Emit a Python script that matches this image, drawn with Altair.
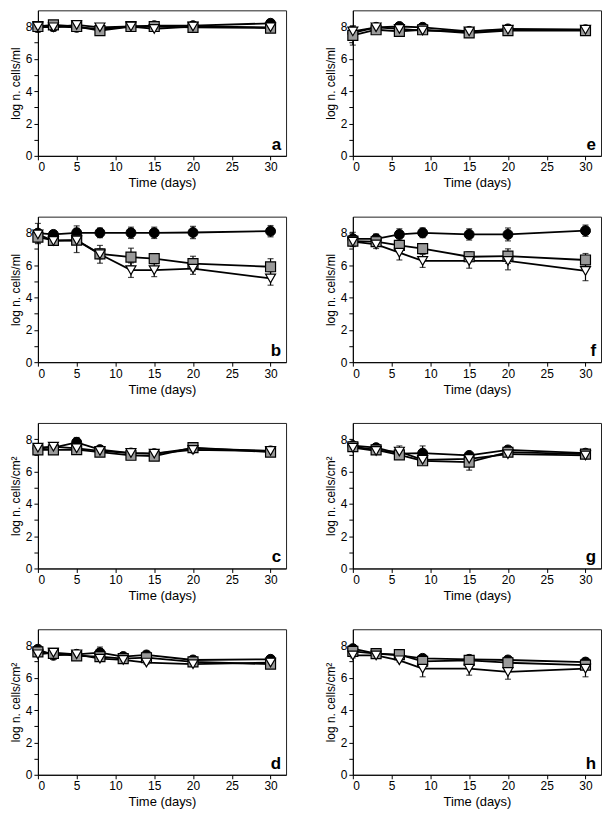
import altair as alt
import pandas as pd

FONT = "Liberation Sans"
W, H = 249, 146

# ---- data ----
times_a = [0, 2, 5, 8, 12, 15, 20, 30]
a_circ = [7.95, 8.0, 7.95, 7.85, 8.0, 8.05, 8.05, 8.2]
a_circ_err = [0.3, 0.1, 0.1, 0.1, 0.1, 0.1, 0.1, 0.1]
a_sq = [8.0, 8.1, 8.0, 7.75, 8.0, 8.0, 7.95, 7.9]
a_sq_err = [0.15, 0.1, 0.1, 0.1, 0.1, 0.1, 0.1, 0.1]
a_tri = [8.0, 7.95, 8.1, 7.95, 8.0, 7.85, 8.0, 7.95]
a_tri_err = [0.1, 0.25, 0.1, 0.1, 0.1, 0.1, 0.1, 0.1]

times_e = [0, 3, 6, 9, 15, 20, 30]
e_circ = [7.6, 7.95, 8.0, 7.95, 7.7, 7.85, 7.8]
e_circ_err = [0.3, 0.1, 0.1, 0.1, 0.1, 0.1, 0.1]
e_sq = [7.45, 7.8, 7.7, 7.8, 7.6, 7.75, 7.75]
e_sq_err = [0.6, 0.15, 0.1, 0.1, 0.1, 0.1, 0.1]
e_tri = [7.7, 7.95, 7.85, 7.75, 7.7, 7.8, 7.8]
e_tri_err = [0.3, 0.2, 0.1, 0.1, 0.1, 0.1, 0.1]

times_b = [0, 2, 5, 8, 12, 15, 20, 30]
b_circ = [7.98, 7.9, 8.0, 8.0, 8.0, 8.0, 8.02, 8.1]
b_circ_err = [0.6, 0.1, 0.43, 0.3, 0.35, 0.35, 0.38, 0.35]
b_sq = [7.73, 7.53, 7.55, 6.7, 6.5, 6.4, 6.1, 5.9]
b_sq_err = [0.4, 0.1, 0.2, 0.3, 0.55, 0.2, 0.45, 0.5]
b_tri = [7.9, 7.5, 7.53, 6.67, 5.69, 5.69, 5.78, 5.18]
b_tri_err = [0.3, 0.1, 0.75, 0.55, 0.45, 0.4, 0.35, 0.42]

times_f = [0, 3, 6, 9, 15, 20, 30]
f_circ = [7.63, 7.63, 7.9, 8.0, 7.9, 7.9, 8.13]
f_circ_err = [0.4, 0.3, 0.35, 0.3, 0.35, 0.4, 0.35]
f_sq = [7.49, 7.45, 7.22, 7.02, 6.52, 6.56, 6.32]
f_sq_err = [0.2, 0.15, 0.2, 0.3, 0.3, 0.45, 0.4]
f_tri = [7.45, 7.28, 6.77, 6.26, 6.26, 6.26, 5.64]
f_tri_err = [0.3, 0.25, 0.45, 0.4, 0.45, 0.55, 0.6]

times_c = [0, 2, 5, 8, 12, 15, 20, 30]
c_circ = [7.43, 7.47, 7.8, 7.35, 7.14, 7.1, 7.43, 7.27]
c_circ_err = [0.1, 0.1, 0.3, 0.1, 0.1, 0.1, 0.1, 0.1]
c_sq = [7.33, 7.33, 7.35, 7.2, 7.0, 6.95, 7.47, 7.2]
c_sq_err = [0.1, 0.1, 0.1, 0.1, 0.1, 0.1, 0.1, 0.1]
c_tri = [7.47, 7.53, 7.43, 7.27, 7.14, 7.1, 7.33, 7.27]
c_tri_err = [0.1, 0.1, 0.1, 0.1, 0.1, 0.1, 0.1, 0.1]

times_g = [0, 3, 6, 9, 15, 20, 30]
g_circ = [7.6, 7.47, 7.1, 7.13, 6.99, 7.33, 7.13]
g_circ_err = [0.1, 0.1, 0.1, 0.45, 0.1, 0.1, 0.1]
g_sq = [7.53, 7.33, 7.03, 6.66, 6.58, 7.19, 7.07]
g_sq_err = [0.1, 0.1, 0.1, 0.1, 0.5, 0.1, 0.1]
g_tri = [7.47, 7.27, 7.23, 6.72, 6.78, 7.07, 6.99]
g_tri_err = [0.1, 0.1, 0.35, 0.1, 0.1, 0.1, 0.1]

times_d = [0, 2, 5, 8, 11, 14, 20, 30]
d_circ = [7.76, 7.39, 7.45, 7.55, 7.31, 7.41, 7.1, 7.14]
d_circ_err = [0.1, 0.1, 0.1, 0.35, 0.1, 0.1, 0.1, 0.1]
d_sq = [7.6, 7.51, 7.35, 7.31, 7.18, 7.24, 6.98, 6.84]
d_sq_err = [0.1, 0.1, 0.1, 0.1, 0.1, 0.1, 0.1, 0.1]
d_tri = [7.45, 7.55, 7.45, 7.18, 7.1, 6.94, 6.84, 6.94]
d_tri_err = [0.1, 0.1, 0.1, 0.1, 0.1, 0.1, 0.1, 0.1]

times_h = [0, 3, 6, 9, 15, 20, 30]
h_circ = [7.8, 7.49, 7.38, 7.2, 7.14, 7.1, 6.97]
h_circ_err = [0.1, 0.1, 0.1, 0.1, 0.1, 0.1, 0.1]
h_sq = [7.63, 7.49, 7.43, 7.02, 7.08, 6.93, 6.78]
h_sq_err = [0.1, 0.1, 0.1, 0.1, 0.1, 0.1, 0.1]
h_tri = [7.38, 7.38, 7.08, 6.56, 6.56, 6.36, 6.56]
h_tri_err = [0.15, 0.1, 0.1, 0.5, 0.4, 0.45, 0.5]

x_ticks = [0, 5, 10, 15, 20, 25, 30]
y_ticks = [0, 1, 2, 3, 4, 5, 6, 7, 8]
title_ml = "log n. cells/ml"
title_cm = "log n. cells/cm²"


def panel(letter, times, circ, circ_err, sq, sq_err, tri, tri_err, ytitle):
    rows = []
    for name, vals, errs in (("circ", circ, circ_err), ("sq", sq, sq_err), ("tri", tri, tri_err)):
        for t, v, e in zip(times, vals, errs):
            rows.append({"t": t, "v": v, "lo": v - e, "hi": v + e, "s": name})
    df = pd.DataFrame(rows)

    xs = alt.Scale(domain=[0, 32], nice=False)
    ys = alt.Scale(domain=[0, 9], nice=False)
    xa = alt.Axis(values=x_ticks, title="Time (days)", grid=False)
    ya = alt.Axis(values=y_ticks, title=ytitle, grid=False,
                  labelExpr="datum.value % 2 == 0 ? datum.label : ''")

    def X():
        return alt.X("t:Q", scale=xs, axis=xa)

    def Y(f):
        return alt.Y(f, scale=ys, axis=ya)

    base = alt.Chart(df)
    lines = base.mark_line(color="black", strokeWidth=1.8).encode(x=X(), y=Y("v:Q"), detail="s:N")
    rules = base.mark_rule(color="black", strokeWidth=1.2).encode(x=X(), y=Y("lo:Q"), y2="hi:Q")
    cap_hi = base.mark_tick(orient="horizontal", color="black", size=6, thickness=1.2).encode(x=X(), y=Y("hi:Q"))
    cap_lo = base.mark_tick(orient="horizontal", color="black", size=6, thickness=1.2).encode(x=X(), y=Y("lo:Q"))
    pc = base.transform_filter(alt.datum.s == "circ").mark_point(
        shape="circle", filled=True, fill="black", stroke="black", strokeWidth=1, size=100, opacity=1
    ).encode(x=X(), y=Y("v:Q"))
    ps = base.transform_filter(alt.datum.s == "sq").mark_point(
        shape="square", filled=True, fill="#9a9a9a", stroke="black", strokeWidth=1.2, size=100, opacity=1
    ).encode(x=X(), y=Y("v:Q"))
    pt = base.transform_filter(alt.datum.s == "tri").mark_point(
        shape="triangle-down", filled=True, fill="white", stroke="black", strokeWidth=1.2, size=100, opacity=1
    ).encode(x=X(), y=Y("v:Q"))
    lab = alt.Chart(pd.DataFrame({"l": [letter]})).mark_text(
        align="right", baseline="alphabetic", fontWeight="bold", fontSize=17, font=FONT, color="black"
    ).encode(text="l:N", x=alt.value(W - 5), y=alt.value(H - 6))
    return alt.layer(lines, rules, cap_hi, cap_lo, pc, ps, pt, lab).properties(width=W, height=H)


pa = panel("a", times_a, a_circ, a_circ_err, a_sq, a_sq_err, a_tri, a_tri_err, title_ml)
pe = panel("e", times_e, e_circ, e_circ_err, e_sq, e_sq_err, e_tri, e_tri_err, title_ml)
pb = panel("b", times_b, b_circ, b_circ_err, b_sq, b_sq_err, b_tri, b_tri_err, title_ml)
pf = panel("f", times_f, f_circ, f_circ_err, f_sq, f_sq_err, f_tri, f_tri_err, title_ml)
pc_ = panel("c", times_c, c_circ, c_circ_err, c_sq, c_sq_err, c_tri, c_tri_err, title_cm)
pg = panel("g", times_g, g_circ, g_circ_err, g_sq, g_sq_err, g_tri, g_tri_err, title_cm)
pd_ = panel("d", times_d, d_circ, d_circ_err, d_sq, d_sq_err, d_tri, d_tri_err, title_cm)
ph = panel("h", times_h, h_circ, h_circ_err, h_sq, h_sq_err, h_tri, h_tri_err, title_cm)

rows_ = [alt.hconcat(l, r, spacing=36) for l, r in ((pa, pe), (pb, pf), (pc_, pg), (pd_, ph))]
chart = alt.vconcat(*rows_, spacing=25).properties(padding=0).configure_view(
    stroke="#222222", strokeWidth=1
).configure_axis(
    domainColor="black", tickColor="black", tickSize=4, labelPadding=2,
    labelFont=FONT, labelFontSize=12, labelColor="black",
    titleFont=FONT, titleColor="black", titleFontWeight="normal",
)
chart = chart.configure_axisX(titleFontSize=13, titlePadding=4).configure_axisY(titleFontSize=12, titlePadding=3)

chart.save("out.html", embed_options={"renderer": "svg", "actions": False})
